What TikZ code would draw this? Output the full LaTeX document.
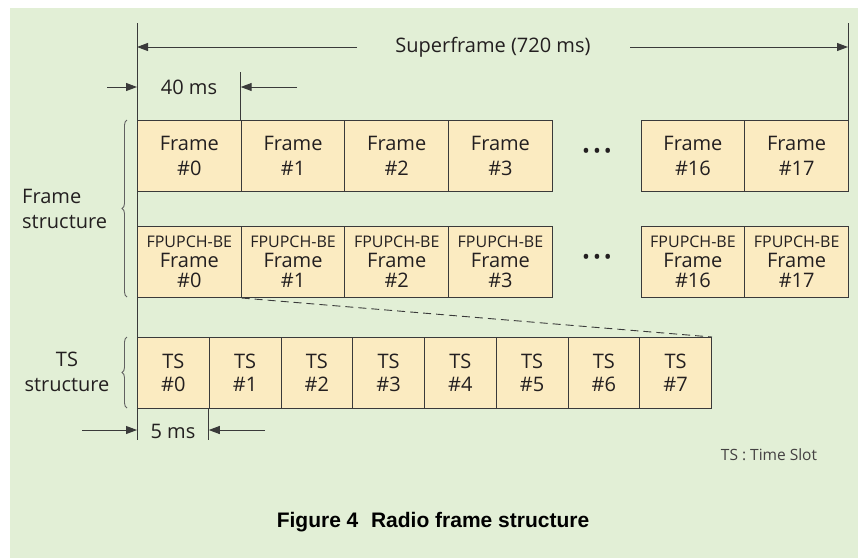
\documentclass[tikz,border=0pt]{standalone}
\usepackage{fontspec}
\setmainfont{Open Sans}
\newfontfamily\capfont{Liberation Sans}
\usetikzlibrary{arrows.meta,decorations.pathreplacing}
\definecolor{bg}{HTML}{E2EFD6}
\definecolor{boxfill}{HTML}{FBEBC1}
\definecolor{ln}{HTML}{3A3A3A}
\definecolor{txt}{HTML}{231F20}
\begin{document}
\begin{tikzpicture}[x=1pt,y=-1pt,
  every node/.style={text=txt, inner sep=0pt},
  cell/.style={draw=ln, line width=1pt, fill=boxfill, anchor=north west, align=center,
    minimum width=103.7pt, minimum height=71pt, font=\fontsize{20}{24.5}\selectfont},
  fpcell/.style={cell, font=\fontsize{20}{20}\selectfont},
  tscell/.style={cell, minimum width=71.75pt, font=\fontsize{20}{23}\selectfont},
  guide/.style={draw=ln, line width=1pt},
  dimarrow/.style={draw=ln, line width=1pt, -{Triangle[length=11pt,width=8pt]}},
  lbl/.style={font=\fontsize{20}{24.5}\selectfont},
  bracestyle/.style={draw=ln!80, line width=0.9pt, decorate, decoration={brace, amplitude=5pt}},
  dotstyle/.style={font=\fontsize{21}{21}\selectfont}
]
\useasboundingbox (0,0) rectangle (858,558);
\fill[white] (0,0) rectangle (858,558);
\fill[bg] (10,8) rectangle (858,558);

% guide lines
\coordinate (gTop) at (137,23);
\coordinate (gBot) at (137,440);
\coordinate (gRTop) at (848,23);
\coordinate (gRBot) at (848,120);
\coordinate (g40Top) at (240.7,72);
\coordinate (g5Bot) at (208.75,440);
\draw[guide] (gTop) -- (gBot);
\draw[guide] (gRTop) -- (gRBot);
\draw[guide] (g40Top) -- (240.7,120);

% frame row
\node[cell] (f0) at (137,120) {Frame\\\#0};
\node[cell] (f1) at (240.7,120) {Frame\\\#1};
\node[cell] (f2) at (344.4,120) {Frame\\\#2};
\node[cell] (f3) at (448.1,120) {Frame\\\#3};
\node[cell] (f16) at (640.6,120) {Frame\\\#16};
\node[cell] (f17) at (744.3,120) {Frame\\\#17};

% FPUPCH row
\newcommand{\fpl}[1]{{\fontsize{16}{20}\selectfont FPUPCH-BE}\\Frame\\\##1}
\node[fpcell] (p0) at (137,226) {\fpl{0}};
\node[fpcell] (p1) at (240.7,226) {\fpl{1}};
\node[fpcell] (p2) at (344.4,226) {\fpl{2}};
\node[fpcell] (p3) at (448.1,226) {\fpl{3}};
\node[fpcell] (p16) at (640.6,226) {\fpl{16}};
\node[fpcell] (p17) at (744.3,226) {\fpl{17}};

\node[dotstyle] (d1) at (597,153) {\textbullet\hspace{3pt}\textbullet\hspace{3pt}\textbullet};
\node[dotstyle] (d2) at (597,259) {\textbullet\hspace{3pt}\textbullet\hspace{3pt}\textbullet};

% TS row
\foreach \i in {0,...,7}{
  \node[tscell] (t\i) at ({137+\i*71.75},337) {TS\\\#\i};
}
\draw[guide] (t1.south west) -- (g5Bot);

% dashed zoom line
\draw[draw=ln, line width=0.9pt, dash pattern=on 8pt off 5pt] (p0.south east) -- (t7.north east);

% superframe dimension
\node[lbl] (sf) at (493,47) {Superframe (720 ms)};
\coordinate (sfL) at (357,47);
\coordinate (sfR) at (630,47);
\draw[dimarrow] (sfL) -- (gTop |- sfL);
\draw[dimarrow] (sfR) -- (gRTop |- sfR);

% 40 ms
\node[lbl] (m40) at (189,87) {40 ms};
\coordinate (a40L) at (107,87);
\coordinate (a40R) at (297,87);
\draw[dimarrow] (a40L) -- (gTop |- a40L);
\draw[dimarrow] (a40R) -- (g40Top |- a40R);

% 5 ms
\node[lbl] (m5) at (173,431) {5 ms};
\coordinate (a5L) at (82,430);
\coordinate (a5R) at (265,430);
\draw[dimarrow] (a5L) -- (gTop |- a5L);
\draw[dimarrow] (a5R) -- (g5Bot |- a5R);

% braces
\draw[bracestyle] (127,297) -- (127,120);
\draw[bracestyle] (127,408) -- (127,337);
\node[lbl, anchor=west, align=left] (fs) at (22,209) {Frame\\structure};
\node[lbl, align=center] (ts) at (67,372) {TS\\structure};

% legend & caption
\node[font=\fontsize{15.5}{18}\selectfont, text=txt!85] (leg) at (769,455) {TS : Time Slot};
\node[font=\capfont\bfseries\fontsize{21}{24}\selectfont, text=black] (cap) at (433,522) {Figure 4\hspace{0.6em}Radio frame structure};
\end{tikzpicture}
\end{document}
